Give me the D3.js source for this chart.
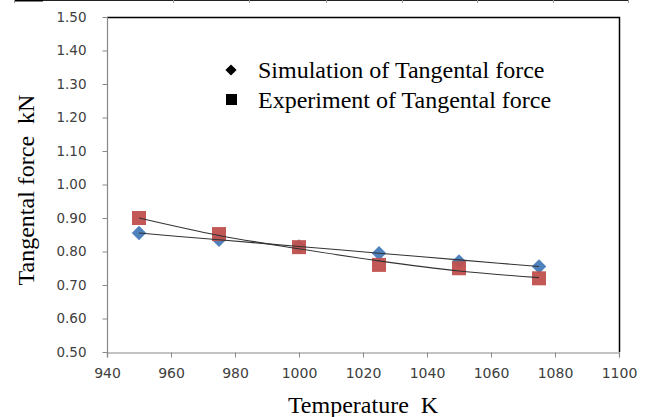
<!DOCTYPE html>
<html>
<head>
<meta charset="utf-8">
<script src="https://cdn.jsdelivr.net/npm/d3@7"></script>
<style>
  body { margin: 0; background: #fff; }
  svg { display: block; }
</style>
</head>
<body>
<div id="container"></div>
<script>
// chart data
const temperatures = [950, 975, 1000, 1025, 1050, 1075];
const simulation = [0.855, 0.835, 0.815, 0.795, 0.770, 0.755];
const experiment = [0.900, 0.852, 0.813, 0.760, 0.750, 0.720];
// trend lines as drawn in the reference
const simulationTrend = [0.855, 0.835, 0.815, 0.795, 0.775, 0.755];
const experimentTrend = [0.900, 0.848, 0.808, 0.772, 0.742, 0.722];
const xTicks = [940, 960, 980, 1000, 1020, 1040, 1060, 1080, 1100];
const yTicks = [0.5, 0.6, 0.7, 0.8, 0.9, 1.0, 1.1, 1.2, 1.3, 1.4, 1.5];
const legendLabels = ['Simulation of Tangental force', 'Experiment of Tangental force'];
const xTitle = 'Temperature\u00a0\u00a0K';
const yTitle = 'Tangental force\u00a0\u00a0kN';
const topRuleTicks = [14, 173, 249, 326, 402, 477, 553, 628];

const width = 649, height = 417;
const margin = { left: 107, right: 30, top: 17, bottom: 65 };

const svg = d3.select('#container').append('svg')
  .attr('width', width)
  .attr('height', height);

// leftover table rule along the top edge
svg.append('line')
  .attr('x1', 14).attr('x2', 628).attr('y1', 0.5).attr('y2', 0.5)
  .attr('stroke', '#222').attr('stroke-width', 1.2);
svg.append('line')
  .attr('x1', 14).attr('x2', 43).attr('y1', 0.5).attr('y2', 0.5)
  .attr('stroke', '#000').attr('stroke-width', 2);
svg.selectAll('.rule-tick').data(topRuleTicks).enter().append('line')
  .attr('class', 'rule-tick')
  .attr('x1', d => d + 0.5).attr('x2', d => d + 0.5)
  .attr('y1', 0).attr('y2', 3)
  .attr('stroke', '#999');

const x = d3.scaleLinear().domain([940, 1100]).range([margin.left, width - margin.right]);
const y = d3.scaleLinear().domain([0.5, 1.5]).range([height - margin.bottom, margin.top]);

// plot area border (top and right black)
svg.append('path')
  .attr('d', `M${x(940)},${y(1.5) + 0.5}H${x(1100) + 0.5}V${y(0.5)}`)
  .attr('fill', 'none')
  .attr('stroke', '#000')
  .attr('stroke-width', 1.5);

const xAxis = svg.append('g')
  .attr('transform', `translate(0,${y(0.5) + 0.5})`)
  .call(d3.axisBottom(x).tickValues(xTicks).tickFormat(d3.format('d')).tickSizeOuter(0).tickSize(5).tickPadding(11));

const yAxis = svg.append('g')
  .attr('transform', `translate(${x(940) + 0.5},0)`)
  .call(d3.axisLeft(y).tickValues(yTicks).tickFormat(d3.format('.2f')).tickSizeOuter(0).tickSize(5).tickPadding(16));

[xAxis, yAxis].forEach(a => {
  a.select('.domain').attr('stroke', '#888').attr('stroke-width', 1.2);
  a.selectAll('.tick line').attr('stroke', '#888');
  a.selectAll('.tick text')
    .attr('fill', '#404040')
    .style('font-family', '"DejaVu Sans", Verdana, sans-serif')
    .style('font-size', '13.5px');
});
xAxis.selectAll('.tick text').style('font-size', '14px');
// y axis line runs a little below the x axis like the reference
yAxis.select('.domain').attr('d', `M0,${y(1.5)}V${y(0.5) + 5}`);

// markers
const pts = temperatures.map((t, i) => ({ t, sim: simulation[i], exp: experiment[i] }));

svg.selectAll('.sim').data(pts).enter().append('path')
  .attr('class', 'sim')
  .attr('d', d3.symbol().type(d3.symbolDiamond2).size(135)())
  .attr('transform', d => `translate(${x(d.t)},${y(d.sim)})`)
  .attr('fill', '#4F81BD');

svg.selectAll('.exp').data(pts).enter().append('rect')
  .attr('class', 'exp')
  .attr('x', d => x(d.t) - 7)
  .attr('y', d => y(d.exp) - 7)
  .attr('width', 14).attr('height', 14)
  .attr('fill', '#C0504D')
  .attr('opacity', 0.95);

// trend lines
const trend = d3.line()
  .x((d, i) => x(temperatures[i]))
  .y(d => y(d))
  .curve(d3.curveMonotoneX);

[simulationTrend, experimentTrend].forEach(s => {
  svg.append('path')
    .attr('d', trend(s))
    .attr('fill', 'none')
    .attr('stroke', '#333')
    .attr('stroke-width', 1.1);
});

// legend
const serif = '"Liberation Serif", "Times New Roman", serif';
const legend = svg.append('g');
legend.append('path')
  .attr('d', d3.symbol().type(d3.symbolDiamond2).size(80)())
  .attr('transform', 'translate(231,70)')
  .attr('fill', '#000');
legend.append('rect')
  .attr('x', 226).attr('y', 94).attr('width', 11).attr('height', 11)
  .attr('fill', '#000');
legend.selectAll('text').data(legendLabels).enter().append('text')
  .attr('x', 258)
  .attr('y', (d, i) => 78 + i * 30)
  .style('font-family', serif)
  .style('font-size', '24px')
  .attr('fill', '#000')
  .text(d => d);

// axis titles
svg.append('text')
  .attr('x', (x(940) + x(1100)) / 2)
  .attr('y', 413)
  .attr('text-anchor', 'middle')
  .style('font-family', serif)
  .style('font-size', '24px')
  .text(xTitle);

svg.append('text')
  .attr('transform', `translate(34,190) rotate(-90)`)
  .attr('text-anchor', 'middle')
  .style('font-family', serif)
  .style('font-size', '24px')
  .text(yTitle);
</script>
</body>
</html>
